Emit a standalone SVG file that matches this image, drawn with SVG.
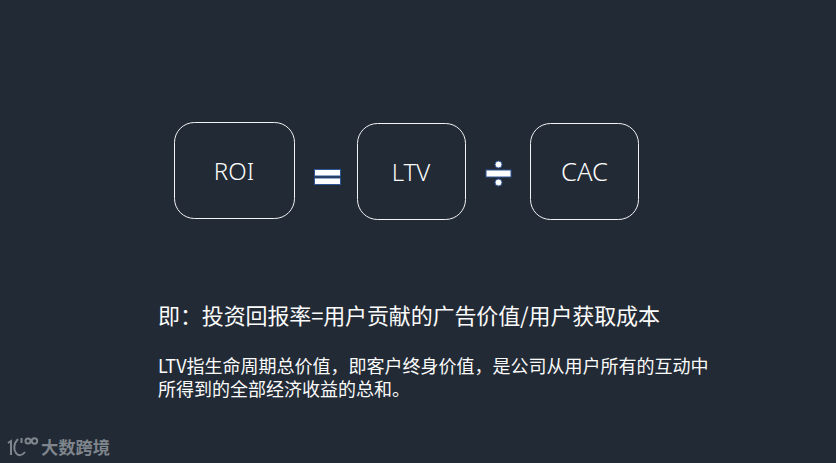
<svg xmlns="http://www.w3.org/2000/svg" width="836" height="463" viewBox="0 0 836 463">
<style>
.box{fill:none;stroke:#f2f3f4;stroke-width:1}
.lbl{font-family:"Noto Sans","Noto Sans CJK SC",sans-serif;font-weight:300;font-size:24px;fill:#fbfbfb;text-anchor:middle}
.op{fill:#fff;stroke:#2f5597;stroke-width:1}
.t{font-family:"Noto Sans CJK SC","Noto Sans",sans-serif;fill:#fbfbfb}
.logo{fill:none;stroke:#7f858c;stroke-width:2}
</style>
<rect width="836" height="463" fill="#222a35"/>
<g id="roi"><rect class="box" x="174.5" y="122.5" width="120" height="96" rx="20"/><text class="lbl" x="234" y="180">ROI</text></g>
<g id="equals"><rect class="op" x="314.5" y="169.5" width="26" height="6.5"/><rect class="op" x="314.5" y="178" width="26" height="6.5"/></g>
<g id="ltv"><rect class="box" x="357.5" y="123.5" width="108" height="96" rx="20"/><text class="lbl" x="411" y="181">LTV</text></g>
<g id="divide"><rect class="op" x="486" y="170" width="25" height="7"/><circle class="op" cx="498.5" cy="164.500" r="3.500"/><circle class="op" cx="498.5" cy="182.500" r="3.500"/></g>
<g id="cac"><rect class="box" x="530.5" y="123.5" width="108" height="96" rx="20"/><text class="lbl" x="584.5" y="181" style="font-size:25.500px">CAC</text></g>
<text class="t" x="158" y="324" font-size="22" textLength="502" lengthAdjust="spacing">即&#xFF1A;投资回报率=用户贡献的广告价值/用户获取成本</text>
<text class="t" font-size="18"><tspan x="158" y="373">LTV指生命周期总价值&#xFF0C;即客户终身价值&#xFF0C;是公司从用户所有的互动中</tspan><tspan x="158" y="396">所得到的全部经济收益的总和&#x3002;</tspan></text>
<g id="logo">
<path class="logo" d="M8 443 L11 441 V455 M18 439 C14 443 13 449 16 453 C18 456 22 456 25 452 M21.500 438 V443"/>
<circle class="logo" cx="28" cy="441" r="2.500" stroke-width="1.200"/>
<circle class="logo" cx="34.500" cy="441" r="2.700" stroke-width="1.200"/>
<text x="41" y="454" font-family="Noto Sans CJK SC,sans-serif" font-size="17.300" font-weight="700" fill="#7f858c">大数跨境</text>
</g>
</svg>
